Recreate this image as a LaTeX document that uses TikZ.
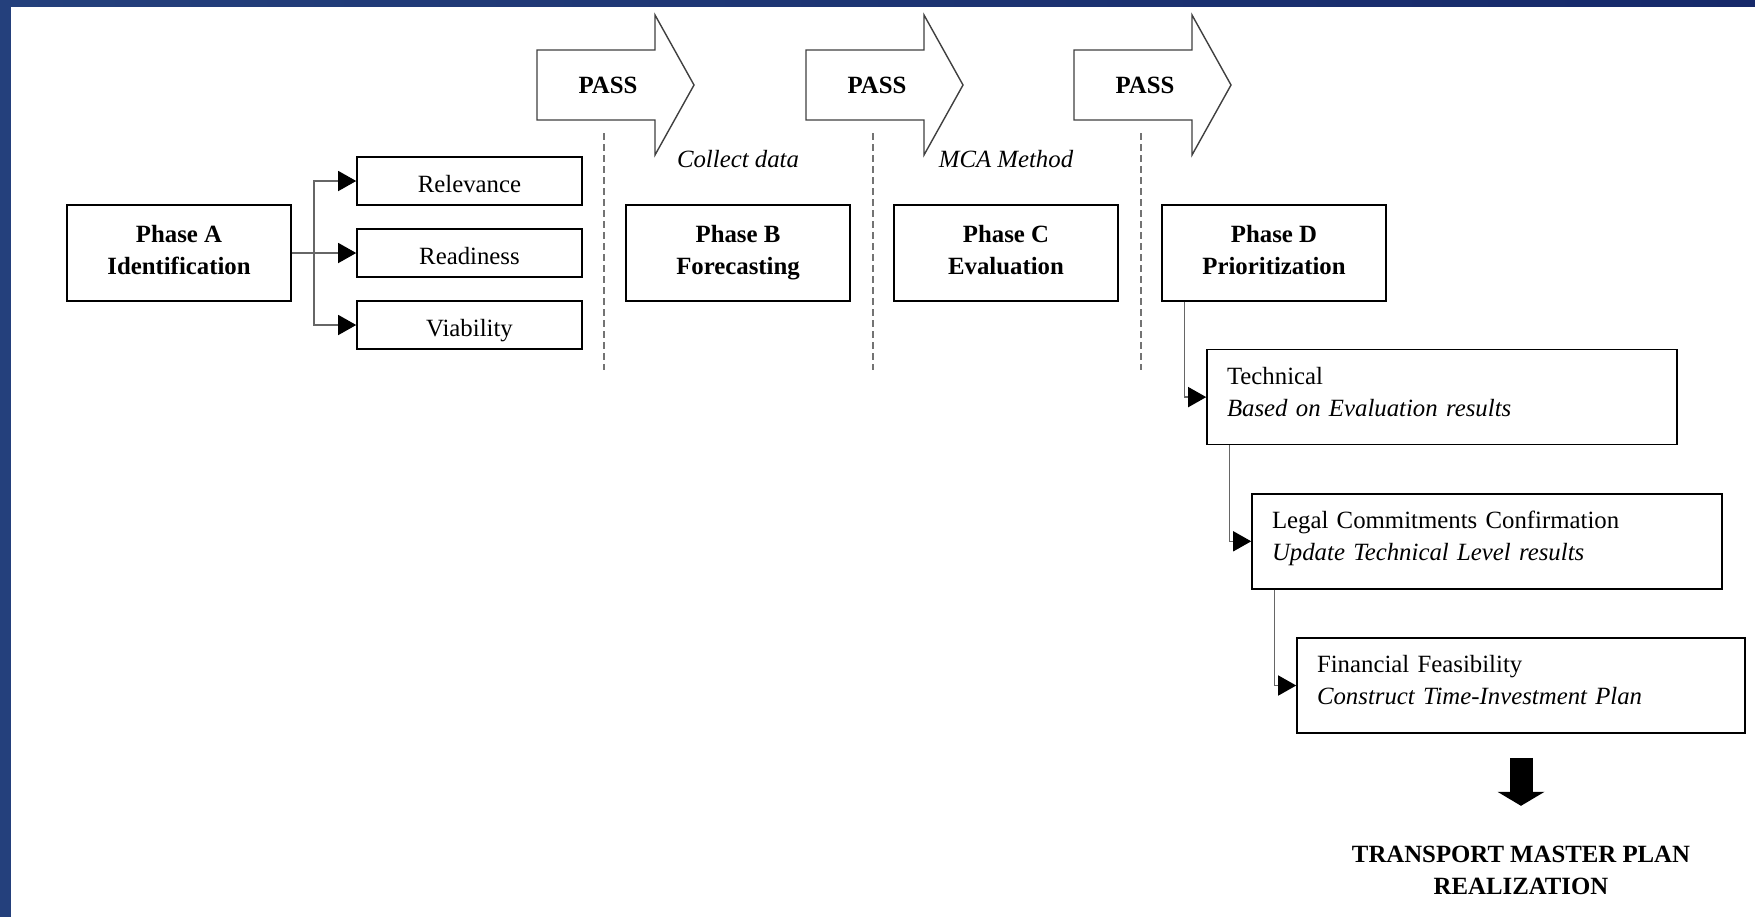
\documentclass[tikz,border=0pt]{standalone}
\usepackage{fontspec}
\setmainfont{Liberation Serif}
\usetikzlibrary{arrows.meta, positioning}
\definecolor{frameblue}{HTML}{24407C}
\definecolor{framelight}{HTML}{4862A0}
\definecolor{framedark}{HTML}{16296A}
\tikzset{
    base/.style={draw, line width=0.8pt, fill=white, font=\fontsize{12.4pt}{16pt}\selectfont},
    phase/.style={base, rectangle, minimum width=112pt, minimum height=48pt, align=center, text depth=3.6pt, font=\fontsize{12.4pt}{16pt}\selectfont\bfseries},
    crit/.style={base, rectangle, minimum width=112.5pt, minimum height=24pt, text height=11.5pt, text depth=0pt},
    stepbox/.style={base, rectangle, minimum height=47.5pt, text width=215pt, inner xsep=10pt, align=left, text depth=21.5pt},
    passlabel/.style={inner sep=0pt, font=\fontsize{12.4pt}{16pt}\selectfont\bfseries},
    note/.style={inner sep=0pt, font=\fontsize{12.4pt}{16pt}\selectfont\itshape},
    result/.style={inner sep=0pt, align=center, font=\fontsize{12.4pt}{16pt}\selectfont\bfseries},
    passarrow/.style={draw=black!75, line width=0.7pt, fill=white},
    sepline/.style={draw=black!55, line width=0.7pt, dash pattern=on 3.5pt off 2pt},
    arrow/.style={draw=black!60, line width=0.7pt, -{Triangle[length=9pt, width=10pt, color=black]}},
    bigarrow/.style={draw=black, line width=11.5pt, -{Triangle[length=7pt, width=23.5pt, line width=0pt]}}
}

\begin{document}
\begin{tikzpicture}[x=0.5pt, y=-0.5pt]
    % page and frame
    \useasboundingbox (0,0) rectangle (1755,917);
    \fill[white] (0,0) rectangle (1755,917);
    \shade[left color=frameblue, middle color=framelight, right color=framedark] (0,0) rectangle (1755,6);
    \fill[frameblue] (0,0) rectangle (11,917);

    % phases
    \node (phaseA) [phase] at (179,253) {Phase A \\ Identification};
    \node (ready) [crit, right=32.2pt of phaseA] {Readiness};
    \node (relev) [crit, above=11.2pt of ready] {Relevance};
    \node (viab) [crit, below=11.2pt of ready] {Viability};
    \node (phaseB) [phase, right=21.2pt of ready] {Phase B \\ Forecasting};
    \node (phaseC) [phase, right=21.2pt of phaseB] {Phase C \\ Evaluation};
    \node (phaseD) [phase, right=21.2pt of phaseC] {Phase D \\ Prioritization};

    \node (collect) [note, above=18pt of phaseB] {Collect data};
    \node (mca) [note, above=18pt of phaseC] {MCA Method};

    % pass gates
    \draw[sepline] (604,133) -- (604,370);
    \draw[sepline] (873,133) -- (873,370);
    \draw[sepline] (1141,133) -- (1141,370);

    \node (pass1) [passlabel] at (608,85) {PASS};
    \node (pass2) [passlabel] at (877,85) {PASS};
    \node (pass3) [passlabel] at (1145,85) {PASS};
    \draw[passarrow] ([shift={(-71,-35)}]pass1.center) -- ++(118,0) -- ++(0,-35) -- ++(39,70) -- ++(-39,70) -- ++(0,-35) -- ++(-118,0) -- cycle;
    \draw[passarrow] ([shift={(-71,-35)}]pass2.center) -- ++(118,0) -- ++(0,-35) -- ++(39,70) -- ++(-39,70) -- ++(0,-35) -- ++(-118,0) -- cycle;
    \draw[passarrow] ([shift={(-71,-35)}]pass3.center) -- ++(118,0) -- ++(0,-35) -- ++(39,70) -- ++(-39,70) -- ++(0,-35) -- ++(-118,0) -- cycle;
    \node[passlabel] at (pass1) {PASS};
    \node[passlabel] at (pass2) {PASS};
    \node[passlabel] at (pass3) {PASS};

    % prioritization steps
    \node (tech) [stepbox, below right=23.5pt and 22.5pt of phaseD.south west] {Technical \\ \textit{Based on Evaluation results}};
    \node (legal) [stepbox, below right=23.8pt and 22.5pt of tech.south west] {Legal Commitments Confirmation \\ \textit{Update Technical Level results}};
    \node (fin) [stepbox, text width=204pt, below right=23.8pt and 22.5pt of legal.south west] {Financial Feasibility \\ \textit{Construct Time-Investment Plan}};
    \node (result) [result, below=56pt of fin] {TRANSPORT MASTER PLAN \\ REALIZATION};

    \draw [arrow] (phaseA.east) -- (ready.west);
    \draw [arrow] ([xshift=11pt]phaseA.east) |- (relev.west);
    \draw [arrow] ([xshift=11pt]phaseA.east) |- (viab.west);
    \draw [arrow] ([xshift=11.75pt]phaseD.south west) |- (tech.west);
    \draw [arrow] ([xshift=11.75pt]tech.south west) |- (legal.west);
    \draw [arrow] ([xshift=11.75pt]legal.south west) |- (fin.west);
    \draw [bigarrow] ([yshift=-12pt]fin.south) -- ([yshift=20pt]result.north);
\end{tikzpicture}
\end{document}
